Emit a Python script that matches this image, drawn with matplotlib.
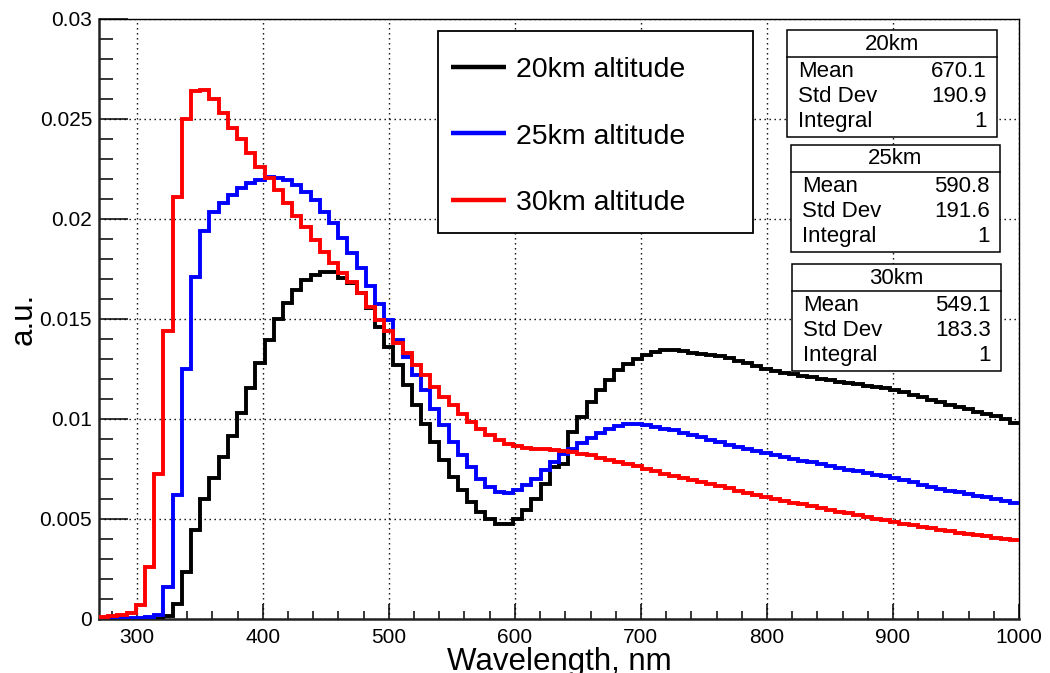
import numpy as np
import matplotlib
matplotlib.use("Agg")
import matplotlib.pyplot as plt
from matplotlib.lines import Line2D
from matplotlib.patches import Rectangle
from matplotlib import ticker

# ---------------- data ----------------
bin_lo = 270.0
bin_hi = 1000.0
n_bins = 100

alt20 = [0, 0, 0, 0, 0, 0, 0, 0.00015, 0.00072, 0.00234,
         0.00443, 0.00596, 0.00704, 0.00809, 0.00913, 0.01026, 0.01154, 0.01276, 0.01393, 0.01497,
         0.01578, 0.01643, 0.01693, 0.01718, 0.01734, 0.01734, 0.01705, 0.01680, 0.01630, 0.01555,
         0.01458, 0.01358, 0.01267, 0.01167, 0.01067, 0.00975, 0.00883, 0.00792, 0.00708, 0.00642,
         0.00583, 0.00533, 0.00500, 0.00475, 0.00475, 0.00500, 0.00542, 0.00600, 0.00675, 0.00758,
         0.00775, 0.00934, 0.01008, 0.01083, 0.01142, 0.01192, 0.01242, 0.01275, 0.01300, 0.01317,
         0.01333, 0.01342, 0.01342, 0.01338, 0.01330, 0.01324, 0.01318, 0.01311, 0.01302, 0.01290,
         0.01278, 0.01265, 0.01250, 0.01238, 0.01230, 0.01222, 0.01215, 0.01208, 0.01200, 0.01192,
         0.01185, 0.01178, 0.01171, 0.01165, 0.01158, 0.01151, 0.01144, 0.01132, 0.01119, 0.01106,
         0.01093, 0.01081, 0.01069, 0.01057, 0.01046, 0.01035, 0.01023, 0.01012, 0.00998, 0.00980]

alt25 = [0.00002, 0.00002, 0.00003, 0.00004, 0.00005, 0.00007, 0.00020, 0.00158, 0.00617, 0.01246,
         0.01709, 0.01939, 0.02034, 0.02079, 0.02118, 0.02151, 0.02176, 0.02193, 0.02206, 0.02201,
         0.02193, 0.02168, 0.02134, 0.02093, 0.02034, 0.01976, 0.01901, 0.01829, 0.01751, 0.01664,
         0.01575, 0.01492, 0.01392, 0.01308, 0.01217, 0.01142, 0.01050, 0.00967, 0.00883, 0.00817,
         0.00758, 0.00700, 0.00658, 0.00633, 0.00628, 0.00642, 0.00667, 0.00700, 0.00742, 0.00783,
         0.00822, 0.00850, 0.00878, 0.00905, 0.00928, 0.00950, 0.00962, 0.00972, 0.00972, 0.00967,
         0.00958, 0.00950, 0.00942, 0.00930, 0.00918, 0.00906, 0.00895, 0.00882, 0.00870, 0.00858,
         0.00847, 0.00836, 0.00826, 0.00817, 0.00808, 0.00799, 0.00790, 0.00781, 0.00772, 0.00763,
         0.00754, 0.00745, 0.00737, 0.00728, 0.00720, 0.00711, 0.00702, 0.00692, 0.00681, 0.00670,
         0.00659, 0.00649, 0.00640, 0.00631, 0.00622, 0.00614, 0.00606, 0.00598, 0.00590, 0.00580]

alt30 = [0.00010, 0.00015, 0.00020, 0.00030, 0.00070, 0.00259, 0.00722, 0.01439, 0.02109, 0.02496,
         0.02639, 0.02643, 0.02600, 0.02529, 0.02451, 0.02396, 0.02326, 0.02259, 0.02201, 0.02143,
         0.02076, 0.02014, 0.01959, 0.01893, 0.01831, 0.01776, 0.01726, 0.01684, 0.01630, 0.01560,
         0.01492, 0.01440, 0.01378, 0.01328, 0.01267, 0.01217, 0.01160, 0.01110, 0.01067, 0.01025,
         0.00983, 0.00950, 0.00917, 0.00892, 0.00872, 0.00862, 0.00855, 0.00850, 0.00847, 0.00842,
         0.00838, 0.00833, 0.00825, 0.00817, 0.00805, 0.00795, 0.00783, 0.00772, 0.00762, 0.00750,
         0.00738, 0.00725, 0.00712, 0.00703, 0.00695, 0.00685, 0.00673, 0.00662, 0.00651, 0.00640,
         0.00630, 0.00619, 0.00609, 0.00599, 0.00589, 0.00580, 0.00571, 0.00562, 0.00553, 0.00544,
         0.00535, 0.00526, 0.00517, 0.00508, 0.00500, 0.00491, 0.00483, 0.00475, 0.00467, 0.00459,
         0.00451, 0.00444, 0.00437, 0.00430, 0.00423, 0.00417, 0.00411, 0.00405, 0.00399, 0.00394]

series_labels = ["20km altitude", "25km altitude", "30km altitude"]
series_colors = ["#000000", "#0000ff", "#ff0000"]
stat_titles = ["20km", "25km", "30km"]
stat_mean = ["670.1", "590.8", "549.1"]
stat_std = ["190.9", "191.6", "183.3"]
stat_integral = ["1", "1", "1"]

x_label = "Wavelength, nm"
y_label = "a.u."

# ---------------- figure ----------------
plt.rcParams['font.family'] = ['Liberation Sans', 'DejaVu Sans']
W, H = 1050, 673
fig = plt.figure(figsize=(W / 100, H / 100), dpi=100)

def fx(px):
    return px / W

def fy(py):
    return 1 - py / H

ax = fig.add_axes([fx(99), fy(618.5), fx(1019) - fx(99), fy(18.7) - fy(618.5)])

edges = np.linspace(bin_lo, bin_hi, n_bins + 1)
for vals, col in zip([alt20, alt25, alt30], series_colors):
    assert len(vals) == n_bins
    ax.stairs(vals, edges, baseline=None, color=col, linewidth=2.8, zorder=3)

ax.set_xlim(bin_lo, bin_hi)
ax.set_ylim(0, 0.03)

ax.xaxis.set_major_locator(ticker.MultipleLocator(100))
ax.xaxis.set_minor_locator(ticker.MultipleLocator(20))
ax.yaxis.set_major_locator(ticker.MultipleLocator(0.005))
ax.yaxis.set_minor_locator(ticker.MultipleLocator(0.001))
ax.yaxis.set_major_formatter(ticker.FuncFormatter(lambda v, p: f"{v:g}"))
ax.xaxis.set_major_formatter(ticker.FuncFormatter(lambda v, p: f"{v:g}"))

ax.tick_params(axis='y', which='major', direction='in', length=21, width=1.1,
               labelsize=15, pad=5, right=False)
ax.tick_params(axis='y', which='minor', direction='in', length=10, width=1.1, right=False)
ax.tick_params(axis='x', which='major', direction='in', length=11, width=1.1,
               labelsize=15, pad=6.5, top=False)
ax.tick_params(axis='x', which='minor', direction='in', length=5.5, width=1.1, top=False)

ax.grid(True, which='major', color='black', linestyle=(0, (1, 2.6)), linewidth=1.0, zorder=1)
ax.set_axisbelow(True)

for side in ['top', 'right']:
    ax.spines[side].set_linewidth(1.0)
for side in ['left', 'bottom']:
    ax.spines[side].set_linewidth(1.8)
    ax.spines[side].set_color('#222222')

ax.set_xlabel(x_label, fontsize=22.5, va='top')
ax.xaxis.set_label_coords(0.5, -0.0475)
ax.set_ylabel(y_label, fontsize=22.5)
ax.yaxis.set_label_coords(-0.066, 0.5)

# legend box (drawn as a framed key)
leg_l, leg_t, leg_r, leg_b = 438.3, 31.0, 753.3, 233.3
fig.add_artist(Rectangle((fx(leg_l), fy(leg_b)), fx(leg_r) - fx(leg_l), fy(leg_t) - fy(leg_b),
                         transform=fig.transFigure, facecolor='white', edgecolor='black',
                         linewidth=1.3, zorder=5))
row_y = [66.7, 133.3, 200.0]
for yy, lab, col in zip(row_y, series_labels, series_colors):
    fig.add_artist(Line2D([fx(450.7), fx(506.0)], [fy(yy), fy(yy)], transform=fig.transFigure,
                          color=col, linewidth=3.2, solid_capstyle='butt', zorder=6))
    fig.text(fx(516.5), fy(yy + 10.2), lab, ha='left', va='baseline', fontsize=20.5, zorder=7)

# stats boxes
box_tops = [30.0, 145.0, 264.0]
box_lefts = [787.3, 790.7, 791.7]
box_rights = [996.7, 1000.0, 1001.0]
box_h = 107.0
for i in range(3):
    t, l, r = box_tops[i], box_lefts[i], box_rights[i]
    fig.add_artist(Rectangle((fx(l), fy(t + box_h)), fx(r) - fx(l), fy(t) - fy(t + box_h),
                             transform=fig.transFigure, facecolor='white',
                             edgecolor='black', linewidth=1.1, zorder=5))
    fig.add_artist(Line2D([fx(l), fx(r)], [fy(t + 27), fy(t + 27)],
                          transform=fig.transFigure, color='black', linewidth=1.1, zorder=6))
    fig.text(fx((l + r) / 2), fy(t + 14), stat_titles[i], ha='center', va='center',
             fontsize=16, zorder=7)
    rows = [("Mean", stat_mean[i]), ("Std Dev", stat_std[i]), ("Integral", stat_integral[i])]
    for j, (name, val) in enumerate(rows):
        yy = t + 41.5 + 25.2 * j
        fig.text(fx(l + 11), fy(yy), name, ha='left', va='center', fontsize=16, zorder=7)
        fig.text(fx(r - 10), fy(yy), val, ha='right', va='center', fontsize=16, zorder=7)

fig.savefig("out.png", dpi=100)
